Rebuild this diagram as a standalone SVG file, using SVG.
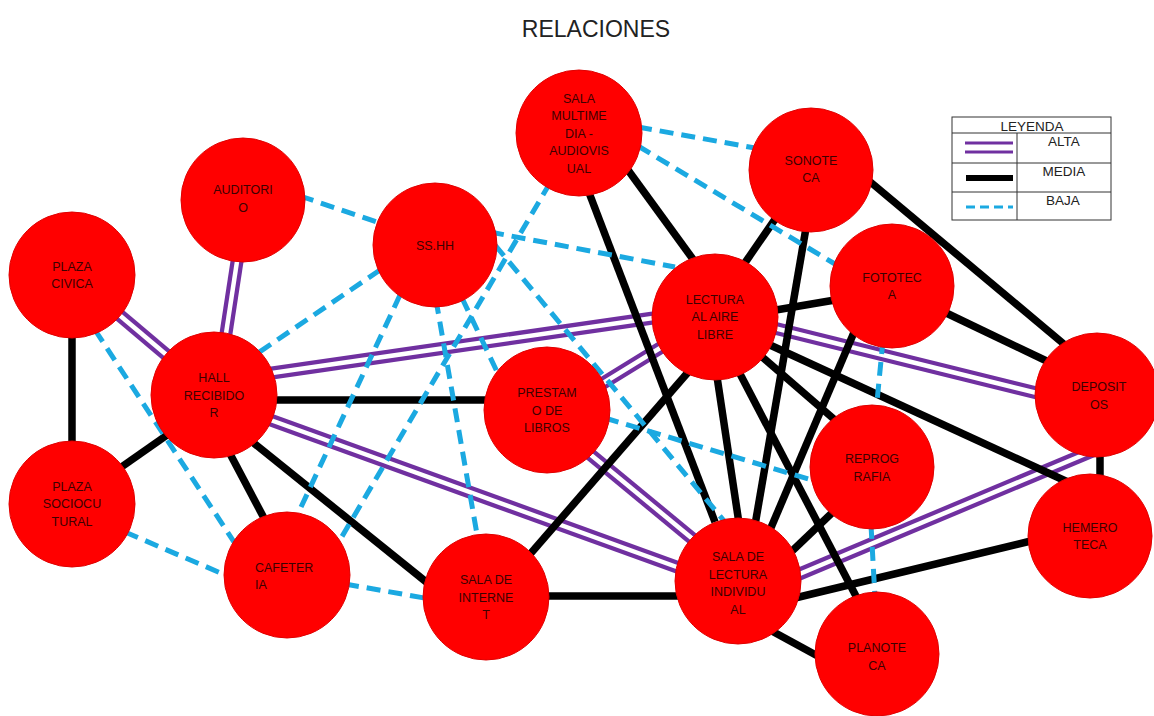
<svg xmlns="http://www.w3.org/2000/svg" xmlns:xlink="http://www.w3.org/1999/xlink" width="1154" height="716" viewBox="0 0 1154 716">
<style>
.title{font-family:"Liberation Sans",Arial,sans-serif;font-size:23px;fill:#222;text-anchor:middle}
.node circle{fill:#ff0000;stroke:#e00000;stroke-width:1}
.node text{font-family:"Liberation Sans",Arial,sans-serif;font-size:12.5px;fill:#3d0000;text-anchor:middle}
.media line{stroke:#000;stroke-width:7.5}
.baja line{stroke:#1ba9e1;stroke-width:5;stroke-dasharray:14 8}
.leg{font-family:"Liberation Sans",Arial,sans-serif;font-size:13.5px;fill:#222;text-anchor:middle}
</style>
<defs>
<g id="alta-lines">
<line x1="72" y1="275" x2="214" y2="395"/>
<line x1="238" y1="255" x2="225" y2="340"/>
<line x1="265" y1="374" x2="660" y2="317"/>
<line x1="265" y1="418" x2="685" y2="570"/>
<line x1="585" y1="450" x2="700" y2="545"/>
<line x1="600" y1="385" x2="665" y2="345"/>
<line x1="770" y1="327" x2="1045" y2="395"/>
<line x1="790" y1="578" x2="1095" y2="450"/>
</g>
</defs>
<text class="title" x="596" y="37">RELACIONES</text>
<g id="connectors">
<g class="alta">
<use xlink:href="#alta-lines" stroke="#7030a0" stroke-width="13"/>
<use xlink:href="#alta-lines" stroke="#ffffff" stroke-width="4.5"/>
</g>
<g class="media">
<line x1="72" y1="300" x2="72" y2="470"/>
<line x1="120" y1="468" x2="170" y2="433"/>
<line x1="260" y1="400" x2="500" y2="400"/>
<line x1="228" y1="450" x2="265" y2="520"/>
<line x1="250" y1="440" x2="430" y2="585"/>
<line x1="530" y1="596" x2="690" y2="596"/>
<line x1="525" y1="560" x2="690" y2="370"/>
<line x1="628" y1="170" x2="695" y2="262"/>
<line x1="588" y1="190" x2="715" y2="522"/>
<line x1="780" y1="212" x2="740" y2="270"/>
<line x1="806" y1="228" x2="755" y2="525"/>
<line x1="868" y1="180" x2="1065" y2="345"/>
<line x1="770" y1="311" x2="835" y2="300"/>
<line x1="940" y1="310" x2="1055" y2="365"/>
<line x1="855" y1="330" x2="770" y2="530"/>
<line x1="716" y1="370" x2="740" y2="530"/>
<line x1="738" y1="370" x2="858" y2="600"/>
<line x1="760" y1="355" x2="835" y2="420"/>
<line x1="770" y1="345" x2="1070" y2="483"/>
<line x1="835" y1="510" x2="790" y2="553"/>
<line x1="795" y1="598" x2="1035" y2="540"/>
<line x1="770" y1="630" x2="825" y2="660"/>
<line x1="1100" y1="445" x2="1100" y2="485"/>
</g>
<g class="baja">
<line x1="95" y1="330" x2="236" y2="545"/>
<line x1="125" y1="532" x2="230" y2="577"/>
<line x1="345" y1="584" x2="430" y2="599"/>
<line x1="300" y1="196" x2="380" y2="223"/>
<line x1="380" y1="270" x2="255" y2="355"/>
<line x1="400" y1="295" x2="295" y2="520"/>
<line x1="550" y1="183" x2="337" y2="545"/>
<line x1="436" y1="300" x2="478" y2="540"/>
<line x1="462" y1="298" x2="500" y2="378"/>
<line x1="495" y1="245" x2="725" y2="522"/>
<line x1="490" y1="232" x2="675" y2="267"/>
<line x1="638" y1="127" x2="755" y2="148"/>
<line x1="638" y1="146" x2="835" y2="264"/>
<line x1="883" y1="340" x2="876" y2="412"/>
<line x1="871" y1="525" x2="875" y2="598"/>
<line x1="605" y1="418" x2="815" y2="481"/>
</g>
</g>
<g id="n-plaza-civica" class="node"><circle cx="72" cy="275" r="63"/><text><tspan x="72" y="271">PLAZA</tspan><tspan x="72" y="288">CIVICA</tspan></text></g>
<g id="n-hall" class="node"><circle cx="214" cy="395" r="63"/><text><tspan x="214" y="382">HALL</tspan><tspan x="214" y="399.5">RECIBIDO</tspan><tspan x="214" y="417">R</tspan></text></g>
<g id="n-auditorio" class="node"><circle cx="243" cy="200" r="62"/><text><tspan x="243" y="194">AUDITORI</tspan><tspan x="243" y="211.5">O</tspan></text></g>
<g id="n-sshh" class="node"><circle cx="435" cy="245" r="62"/><text><tspan x="435" y="250">SS.HH</tspan></text></g>
<g id="n-multimedia" class="node"><circle cx="579" cy="133" r="63"/><text><tspan x="579" y="102.5">SALA</tspan><tspan x="579" y="120">MULTIME</tspan><tspan x="579" y="137.5">DIA -</tspan><tspan x="579" y="155">AUDIOVIS</tspan><tspan x="579" y="172.5">UAL</tspan></text></g>
<g id="n-sonoteca" class="node"><circle cx="811" cy="170" r="62"/><text><tspan x="811" y="164.5">SONOTE</tspan><tspan x="811" y="182">CA</tspan></text></g>
<g id="n-fototeca" class="node"><circle cx="892" cy="286" r="62"/><text><tspan x="892" y="281.5">FOTOTEC</tspan><tspan x="892" y="299">A</tspan></text></g>
<g id="n-lectura-aire" class="node"><circle cx="715" cy="317" r="63"/><text><tspan x="715" y="303.5">LECTURA</tspan><tspan x="715" y="321">AL AIRE</tspan><tspan x="715" y="338.5">LIBRE</tspan></text></g>
<g id="n-prestamo" class="node"><circle cx="547" cy="410" r="63"/><text><tspan x="547" y="397">PRESTAM</tspan><tspan x="547" y="414.5">O DE</tspan><tspan x="547" y="432">LIBROS</tspan></text></g>
<g id="n-depositos" class="node"><circle cx="1097" cy="395" r="62"/><text><tspan x="1099" y="391">DEPOSIT</tspan><tspan x="1099" y="408.5">OS</tspan></text></g>
<g id="n-reprografia" class="node"><circle cx="872" cy="467" r="62"/><text><tspan x="872" y="463">REPROG</tspan><tspan x="872" y="480.5">RAFIA</tspan></text></g>
<g id="n-hemeroteca" class="node"><circle cx="1090" cy="536" r="62"/><text><tspan x="1090" y="531.5">HEMERO</tspan><tspan x="1090" y="549">TECA</tspan></text></g>
<g id="n-plaza-socio" class="node"><circle cx="72" cy="504" r="63"/><text><tspan x="72" y="490.5">PLAZA</tspan><tspan x="72" y="508">SOCIOCU</tspan><tspan x="72" y="525.5">TURAL</tspan></text></g>
<g id="n-cafeteria" class="node"><circle cx="287" cy="575" r="63"/><text style="text-anchor:start"><tspan x="255" y="571.5">CAFETER</tspan><tspan x="255" y="589">IA</tspan></text></g>
<g id="n-internet" class="node"><circle cx="486" cy="597" r="63"/><text><tspan x="486" y="584">SALA DE</tspan><tspan x="486" y="601.5">INTERNE</tspan><tspan x="486" y="619">T</tspan></text></g>
<g id="n-lectura-individual" class="node"><circle cx="738" cy="581" r="63"/><text><tspan x="738" y="561">SALA DE</tspan><tspan x="738" y="578.5">LECTURA</tspan><tspan x="738" y="596">INDIVIDU</tspan><tspan x="738" y="613.5">AL</tspan></text></g>
<g id="n-planoteca" class="node"><circle cx="877" cy="654" r="62"/><text><tspan x="877" y="652">PLANOTE</tspan><tspan x="877" y="669.5">CA</tspan></text></g>
<g id="legend">
<rect x="952" y="117" width="159" height="103" fill="#fff" stroke="#333" stroke-width="1"/>
<line x1="952" y1="133" x2="1111" y2="133" stroke="#333" stroke-width="1"/>
<line x1="952" y1="163" x2="1111" y2="163" stroke="#333" stroke-width="1"/>
<line x1="952" y1="192" x2="1111" y2="192" stroke="#333" stroke-width="1"/>
<line x1="1017" y1="133" x2="1017" y2="220" stroke="#333" stroke-width="1"/>
<text class="leg" x="1032" y="130.5">LEYENDA</text>
<text class="leg" x="1064" y="146">ALTA</text>
<text class="leg" x="1064" y="176">MEDIA</text>
<text class="leg" x="1063" y="205">BAJA</text>
<line x1="965" y1="143" x2="1013" y2="143" stroke="#7030a0" stroke-width="3"/>
<line x1="965" y1="152" x2="1013" y2="152" stroke="#7030a0" stroke-width="3"/>
<line x1="966" y1="178" x2="1013" y2="178" stroke="#000" stroke-width="6"/>
<line x1="966" y1="207" x2="1013" y2="207" stroke="#1ba9e1" stroke-width="3" stroke-dasharray="9 5"/>
</g>
</svg>
